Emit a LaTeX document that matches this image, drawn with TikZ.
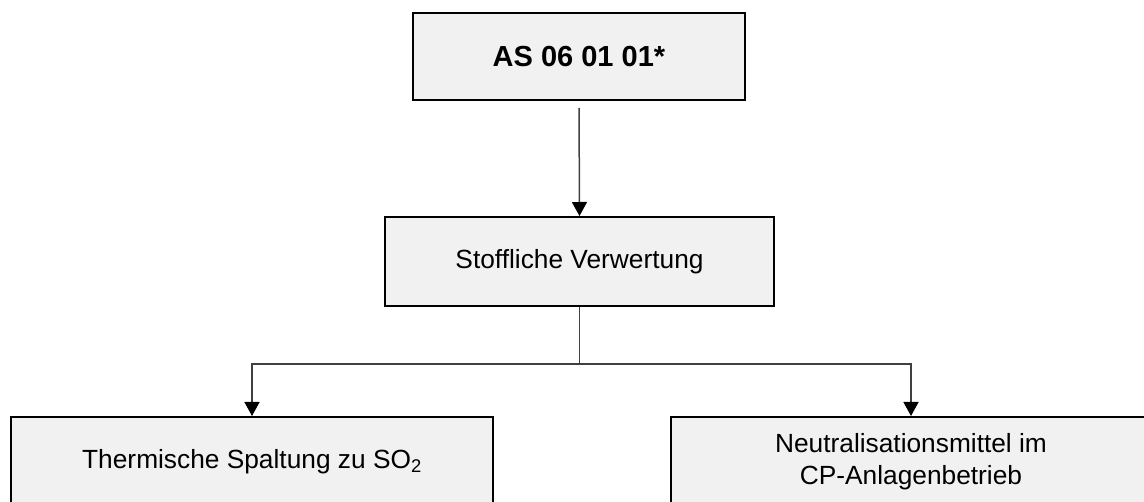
\documentclass[tikz,border=0pt]{standalone}
\usepackage{fontspec}
\setmainfont{Liberation Sans}
\usetikzlibrary{arrows.meta}
\definecolor{boxfill}{HTML}{F1F1F1}
\definecolor{linegray}{HTML}{404040}
\tikzset{
  box/.style={draw=black, line width=2pt, fill=boxfill, inner sep=0pt,
    font=\fontsize{26.3}{32}\selectfont, align=center},
  conn/.style={draw=linegray, line width=1.5pt},
  arr/.style={conn, -{Triangle[length=14pt,width=15pt,color=black]}}
}
\begin{document}
\begin{tikzpicture}[x=1pt,y=-1pt]
\useasboundingbox (0,0) rectangle (1144,502);
\clip (0,0) rectangle (1144,502);
\node[box, minimum width=332pt, minimum height=87pt, font=\fontsize{29}{34}\selectfont\bfseries] (top) at (579,56.5) {AS 06 01 01*};
\node[box, minimum width=389pt, minimum height=89pt] (mid) at (579.5,261.5) {Stoffliche Verwertung};
\node[box, minimum width=482pt, minimum height=89pt] (left) at (252,461.5) {Thermische Spaltung zu SO\textsubscript{2}};
\node[box, minimum width=480pt, minimum height=89pt] (right) at (911,461.5) {Neutralisationsmittel im\\CP-Anlagenbetrieb};
\coordinate (j) at (579.5,364);
\draw[arr, shorten <=7pt] (top.south) -- (mid.north);
\draw[conn] (mid.south) -- (j);
\draw[arr] (j) -| (left.north);
\draw[arr] (j) -| (right.north);
\end{tikzpicture}
\end{document}
